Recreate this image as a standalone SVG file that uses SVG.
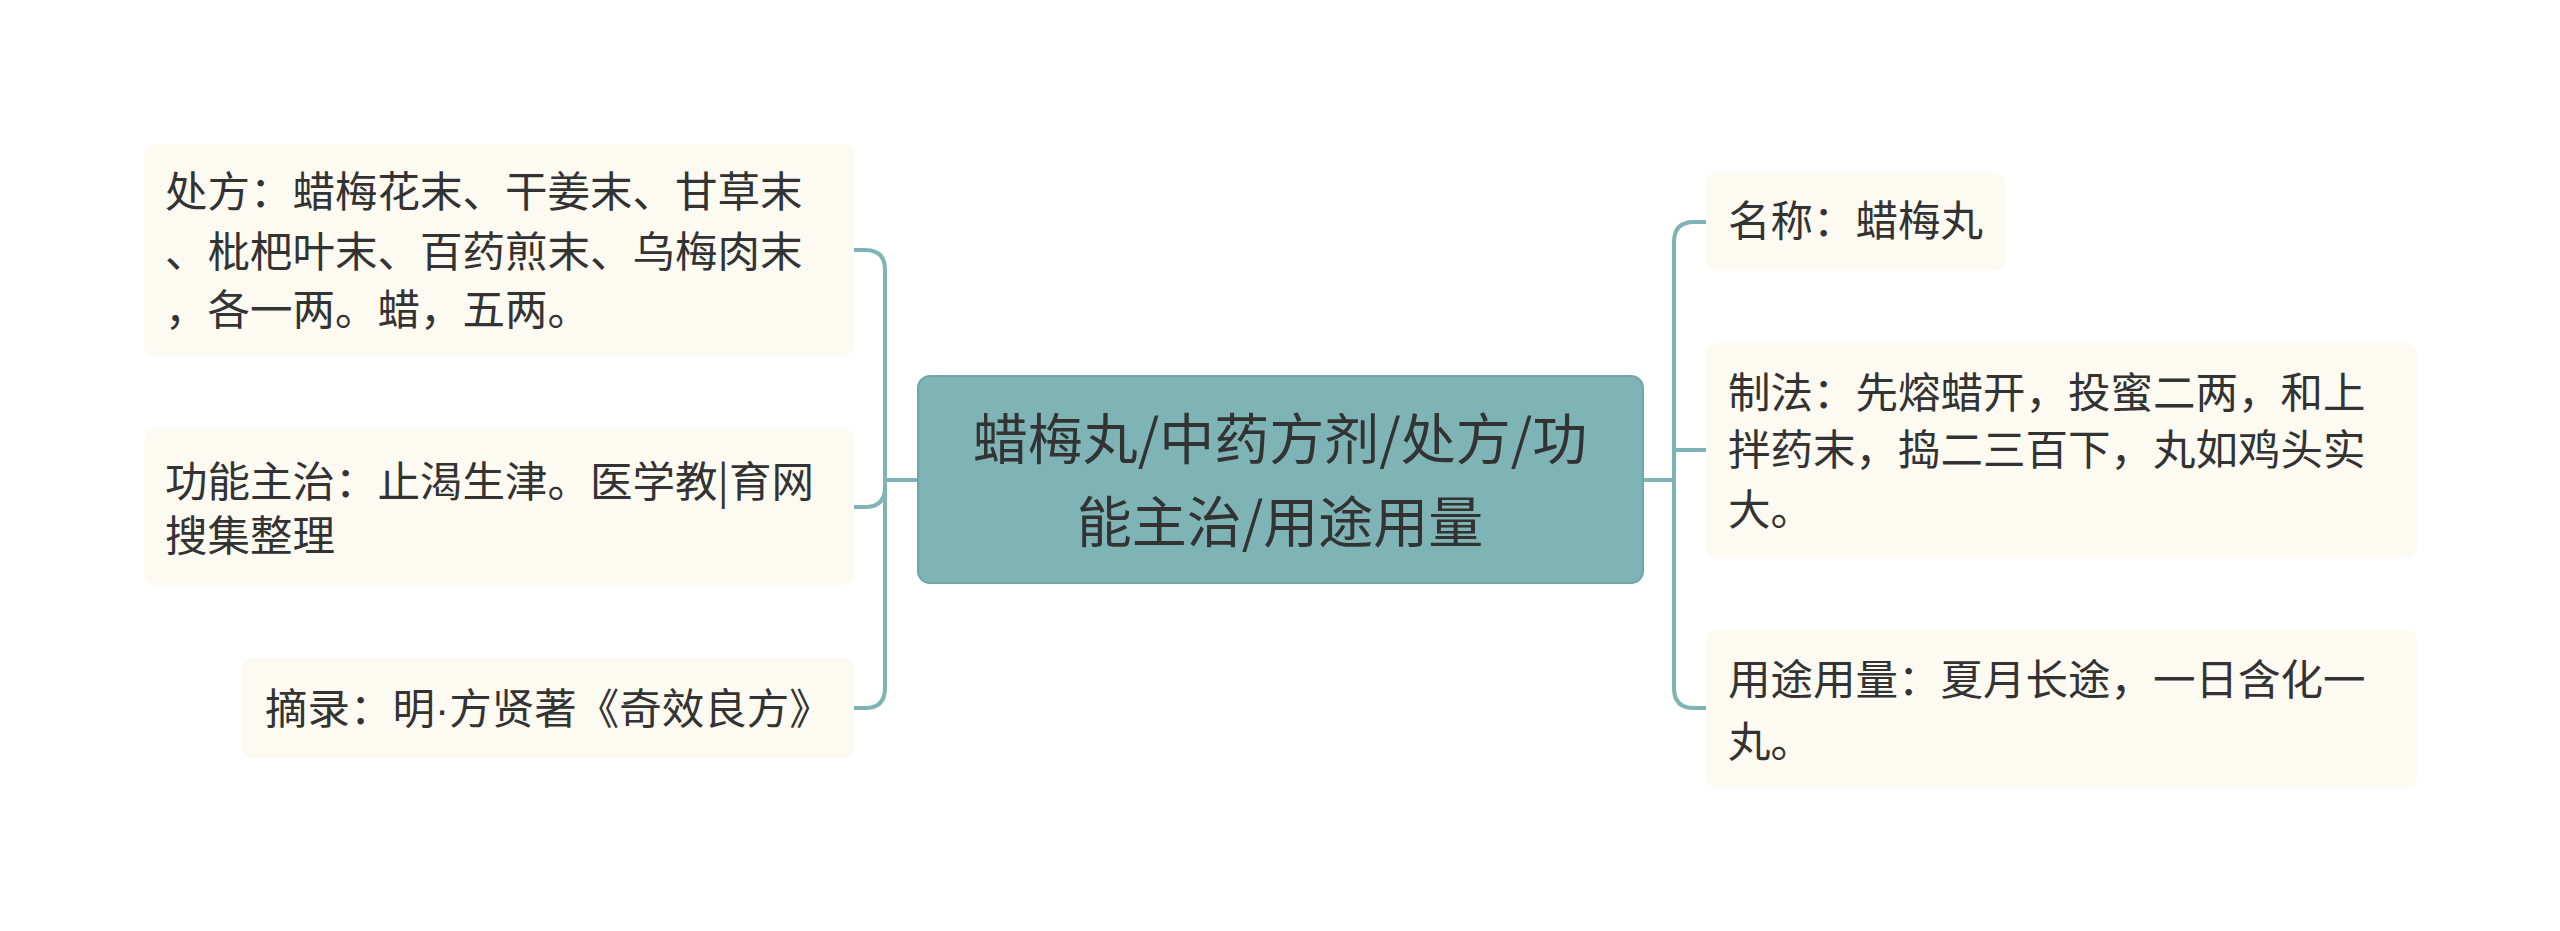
<svg xmlns="http://www.w3.org/2000/svg" width="2560" height="931" viewBox="0 0 2560 931">
<style>
.n{fill:#fcfaf1;stroke:none}
.t{font-family:"Noto Sans CJK SC",sans-serif;font-size:42.5px;fill:#333}
.c{font-family:"Noto Sans CJK SC",sans-serif;font-size:55px;fill:#333;text-anchor:middle}
.l{fill:none;stroke:#7fb4b6;stroke-width:4}
.d{font-family:"Liberation Sans",sans-serif}
</style>
<rect width="2560" height="931" fill="#fff"/>
<g id="connectors">
<path class="l" d="M918 480 H885 M885 480 V270 Q885 250 865 250 H854 M885 480 V487 Q885 507 865 507 H854 M885 480 V688 Q885 708 865 708 H854"/>
<path class="l" d="M1643 480 H1674 M1674 480 V242 Q1674 222 1694 222 H1706 M1674 480 V450 H1706 M1674 480 V688 Q1674 708 1694 708 H1706"/>
</g>
<g id="center"><rect x="918" y="376" width="725" height="207" rx="12" fill="#7fb4b6" stroke="#6fa6a8" stroke-width="2"/>
<text class="c" x="1280" y="459">蜡梅丸/中药方剂/处方/功</text><text class="c" x="1280" y="542">能主治/用途用量</text></g>
<g id="l1"><rect class="n" x="144" y="144" width="710" height="212" rx="10"/>
<text class="t" x="165" y="207">处方：蜡梅花末、干姜末、甘草末</text><text class="t" x="165" y="267">、枇杷叶末、百药煎末、乌梅肉末</text><text class="t" x="165" y="325">，各一两。蜡，五两。</text></g>
<g id="l2"><rect class="n" x="144" y="429" width="710" height="156" rx="10"/>
<text class="t" x="165" y="497">功能主治：止渴生津。医学教|育网</text><text class="t" x="165" y="551">搜集整理</text></g>
<g id="l3"><rect class="n" x="242" y="658" width="612" height="100" rx="10"/>
<text class="t" x="265" y="724">摘录：明<tspan class="d">·</tspan>方贤著《奇效良方》</text></g>
<g id="r1"><rect class="n" x="1706" y="173" width="299" height="98" rx="10"/>
<text class="t" x="1728" y="236">名称：蜡梅丸</text></g>
<g id="r2"><rect class="n" x="1706" y="343" width="711" height="214" rx="10"/>
<text class="t" x="1728" y="408">制法：先熔蜡开，投蜜二两，和上</text><text class="t" x="1728" y="465">拌药末，捣二三百下，丸如鸡头实</text><text class="t" x="1728" y="525">大。</text></g>
<g id="r3"><rect class="n" x="1706" y="630" width="711" height="157" rx="10"/>
<text class="t" x="1728" y="695">用途用量：夏月长途，一日含化一</text><text class="t" x="1728" y="757">丸。</text></g>
</svg>
